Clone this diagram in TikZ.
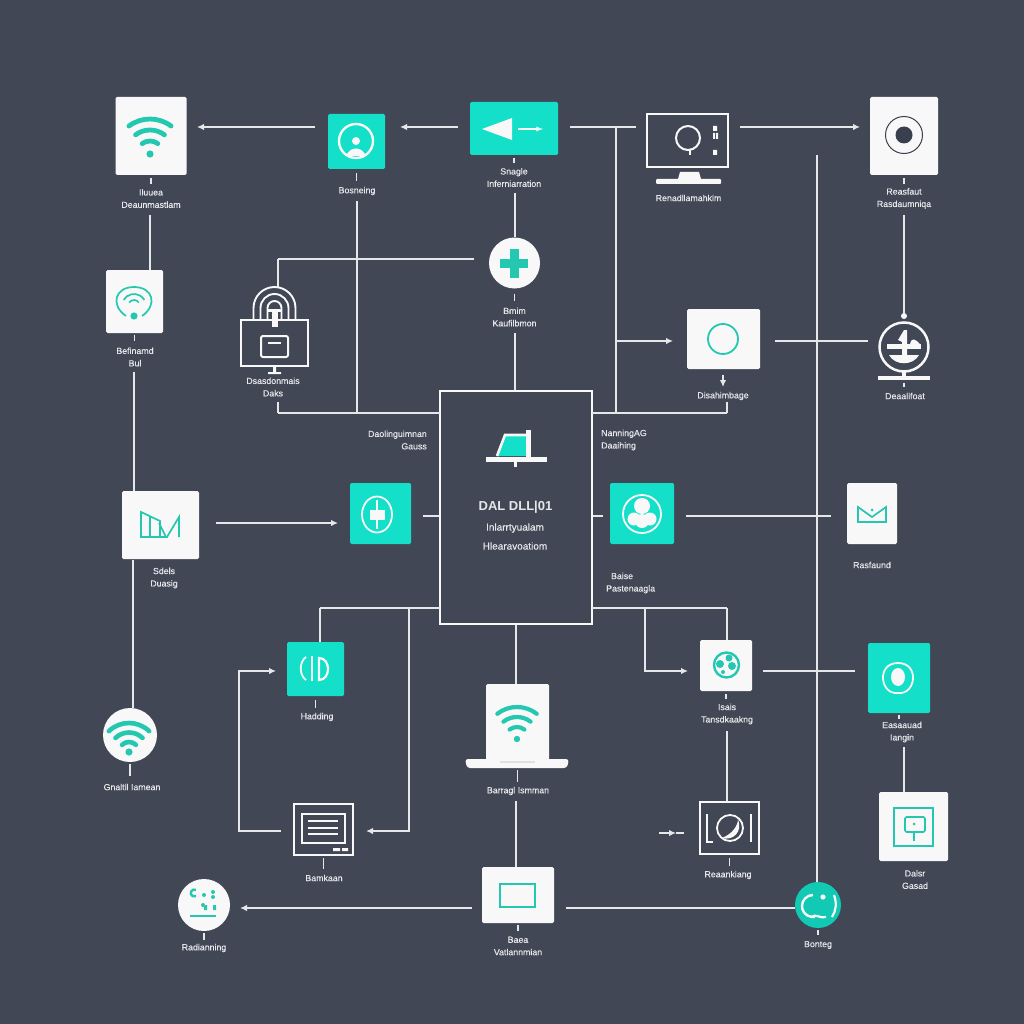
\documentclass[tikz,border=0pt]{standalone}
\usepackage{fontspec}
\setmainfont{Liberation Sans}
\usepackage{xcolor}
\usetikzlibrary{positioning,shapes,arrows,arrows.meta}

\definecolor{slatebg}{HTML}{424756}
\definecolor{aqua}{HTML}{14DFC8}
\definecolor{aquadark}{HTML}{24C8B0}
\definecolor{paper}{HTML}{F8F8F8}
\definecolor{wirecol}{HTML}{E6E7E9}
\definecolor{inkdark}{HTML}{3A3F4D}

\tikzset{
  wire/.style={draw=wirecol, line width=1.4pt},
  flow/.style={wire, -{Latex[length=7pt,width=6.5pt]}},
  whitebox/.style={draw=none, fill=paper, rounded corners=1.5pt, inner sep=0pt},
  tealbox/.style={draw=none, fill=aqua, rounded corners=1.5pt, inner sep=0pt},
  framebox/.style={draw=paper, line width=2pt, fill=slatebg, inner sep=0pt},
  whitedisc/.style={circle, draw=none, fill=paper, inner sep=0pt, minimum size=#1},
  tealdisc/.style={circle, draw=none, fill=aqua!90!black, inner sep=0pt, minimum size=#1},
  lbl/.style={text=wirecol, align=center, inner sep=0pt, font=\fontsize{8.8}{12.4}\selectfont\addfontfeature{FakeBold=0.3}},
  glyph/.style={draw=paper, line width=2pt},
  tealglyph/.style={draw=aquadark, line width=1.7pt}
}

% wifi sign: x, y, three radii, width, dot radius, half angle
\newcommand{\wifiglyph}[8]{
  \foreach \r in {#3,#4,#5}
    \draw[aquadark, line width=#6pt, line cap=round] (#1,#2) ++(-90-#8:\r) arc (-90-#8:-90+#8:\r);
  \fill[aquadark] (#1,#2) circle[radius=#7];
}

\begin{document}
\begin{tikzpicture}[x=1pt,y=-1pt]
  \fill[slatebg] (0,0) rectangle (1024,1024);

  % boxes
  \node[whitebox, minimum width=71, minimum height=78] (wifiA) at (151,136) {};
  \node[tealbox, minimum width=57, minimum height=55] (ringA) at (356.5,141.5) {};
  \node[tealbox, minimum width=88, minimum height=53] (pointer) at (514,128.5) {};
  \node[framebox, minimum width=81, minimum height=53] (monitor) at (687.5,140.5) {};
  \node[whitebox, minimum width=68, minimum height=78] (target) at (904,136) {};
  \node[whitebox, minimum width=57, minimum height=63] (wifiB) at (134.5,301.5) {};
  \node[framebox, minimum width=67, minimum height=46] (lockmon) at (274.5,342.5) {};
  \node[whitedisc=51] (plus) at (514.5,263) {};
  \node[whitebox, minimum width=73, minimum height=60] (ringbox) at (723.5,339) {};
  \node[circle, draw=paper, line width=2.5pt, inner sep=0pt, minimum size=49] (globe) at (904,347) {};
  \node[draw=paper, line width=1.7pt, fill=slatebg, inner sep=0pt, minimum width=152, minimum height=233] (central) at (516,507.5) {};
  \node[tealbox, minimum width=61, minimum height=61] (plusteal) at (380.5,513.5) {};
  \node[tealbox, minimum width=64, minimum height=61] (faceteal) at (642,513.5) {};
  \node[whitebox, minimum width=77, minimum height=68] (dmbox) at (160.5,525) {};
  \node[whitebox, minimum width=50, minimum height=61] (crown) at (872,513.5) {};
  \node[tealbox, minimum width=57, minimum height=54] (bars) at (315.5,669) {};
  \node[whitebox, minimum width=52, minimum height=51] (earth) at (726,665.5) {};
  \node[tealbox, minimum width=62, minimum height=70] (eye) at (899,678) {};
  \node[whitedisc=54] (wifiC) at (130,735) {};
  \node[whitebox, minimum width=63, minimum height=76] (laptop) at (517.5,722) {};
  \node[framebox, minimum width=59, minimum height=51] (listmon) at (323.5,829.5) {};
  \node[framebox, minimum width=59, minimum height=52] (gauge) at (729.5,828) {};
  \node[whitebox, minimum width=69, minimum height=69] (square) at (913.5,826.5) {};
  \node[whitedisc=52] (dots) at (204,905) {};
  \node[whitebox, minimum width=72, minimum height=56] (rectbox) at (518,895) {};
  \node[tealdisc=46] (smile) at (818,905) {};

  % texts
  \node[lbl] (t1) at (151,198.5) {Iluuea\\Deaunmastlam};
  \node[lbl] (t2) at (357,191) {Bosneing};
  \node[lbl] (t3) at (514,177.5) {Snagle\\Inferniarration};
  \node[lbl] (t4) at (688.5,198) {Renadllamahkim};
  \node[lbl] (t5) at (904,198.5) {Reasfaut\\Rasdaumniqa};
  \node[lbl] (t6) at (514.5,317) {Bmim\\Kaufilbmon};
  \node[lbl] (t7) at (135,357) {Befinamd\\Bul};
  \node[lbl] (t8) at (273,387) {Dsasdonmais\\Daks};
  \node[lbl] (t9) at (723,396) {Disahimbage};
  \node[lbl] (t10) at (905,396) {Deaalifoat};
  \node[lbl, anchor=east, align=right] (t11) at (427,440) {Daolinguimnan\\Gauss};
  \node[lbl, anchor=west, align=left] (t12) at (601,440) {NanningAG\\ Daaihing};
  \node[lbl, anchor=west, align=left] (t13) at (606,583) {\ \ Baise\\Pastenaagla};
  \node[lbl] (t14) at (164,578) {Sdels\\Duasig};
  \node[lbl] (t15) at (872,565) {Rasfaund};
  \node[lbl] (t16) at (317,717) {Hadding};
  \node[lbl] (t17) at (132,787) {Gnaltil Iamean};
  \node[lbl] (t18) at (518,791) {Barragl Ismman};
  \node[lbl] (t19) at (324,878) {Bamkaan};
  \node[lbl] (t20) at (204,948) {Radianning};
  \node[lbl] (t21) at (518,946) {Baea\\Vatlannmian};
  \node[lbl] (t22) at (727,714) {Isais\\Tansdkaakng};
  \node[lbl] (t23) at (902,732) {Easaauad\\Iangin};
  \node[lbl] (t24) at (728,875) {Reaankiang};
  \node[lbl] (t25) at (915,879.5) {Dalsr\\Gasad};
  \node[lbl] (t26) at (818,945) {Bonteg};
  \node[lbl, font=\fontsize{13}{15}\selectfont\bfseries] (t27) at (515.5,507) {DAL DLL\textbar 01};
  \node[lbl, font=\fontsize{10}{12}\selectfont\addfontfeature{FakeBold=0.3}] (t28) at (515,528) {Inlarrtyualam};
  \node[lbl, font=\fontsize{10}{12}\selectfont\addfontfeature{FakeBold=0.3}] (t29) at (515,546) {Hlearavoatiom};

  % free ends and junctions
  \foreach \name/\x/\y in {e1/315/127, e2/197/127, e3/458/127, e4/400/127, e5/570/127, e6/636/127,
      e7/740/127, e8/860/127, e9/616/127, e10/616/413, e11/616/341, e12/673/341, e13/775/341, e14/868/341,
      e15/723/375, e16/723/387, e17/727/402, e18/727/413, e19/592/413, e20/278/402, e21/278/413, e22/440/413,
      e23/357/201, e24/357/413, e25/474/259, e26/278/259, e27/216/523, e28/338/523, e29/423/516,
      e30/439/516, e31/593/516, e32/603/516, e33/686/516, e34/831/516, e35/320/608, e36/440/608,
      e37/592/608, e38/727/608, e39/409/608, e40/409/831, e41/366/831, e42/645/608, e43/645/671,
      e44/688/671, e45/281/831, e46/239/831, e47/239/671, e48/276/671, e49/763/671, e50/855/671,
      e51/472/908, e52/240/908, e53/566/908, e54/795/908, e55/659/833, e56/676/833, e57/684/833,
      e58/150/215, e59/515/193, e60/515/333, e61/134/372, e62/133/560, e63/904/215, e64/904/313,
      e65/817/155, e66/516/801, e67/727/731, e68/904/747, e69/278/288} 
    \coordinate (\name) at (\x,\y);

  % plain connectors
  \foreach \from/\to in {e5/e6, e9/e10, e13/e14, e19/e18, e21/e22, e23/e24, e25/e26, e26/e69, e29/e30, e31/e32,
      e33/e34, e35/e36, e37/e38, e36/e39, e63/e64, e49/e50, e53/e54, e17/e18}
    \draw[wire] (\from) -- (\to);

  % connectors that run down to a box
  \foreach \from/\to in {e58/wifiB.north, e59/plus.north, e60/central.north, e61/dmbox.north,
      e62/wifiC.north, e65/smile.north, e66/rectbox.north, e67/gauge.north, e68/square.north,
      e35/bars.north, e38/earth.north, central.south/laptop.north}
    \draw[wire] (\from) -- (\from |- \to);

  % arrows
  \foreach \from/\to in {e1/e2, e3/e4, e7/e8, e11/e12, e15/e16, e27/e28, e51/e52, e55/e56}
    \draw[flow] (\from) -- (\to);
  \draw[wire] (e56) -- (e57);
  \draw[wire] (e20) -- (e21);
  \draw[flow] (e39) -- (e40) -- (e41);
  \draw[flow] (e42) -- (e43) -- (e44);
  \draw[flow] (e45) -- (e46) -- (e47) -- (e48);

  % ticks under the boxes
  \foreach \n/\gap/\len in {wifiA/3/6, ringA/4/8, pointer/3/5, plus/5/7, wifiB/2/6, target/3/6, globe/10/4,
      bars/4/8, wifiC/2/12, laptop/10/12, listmon/2/11, rectbox/2/6, earth/3/5, eye/2/4, gauge/3/8,
      smile/2/5, dots/2/7}
    \draw[wire] (\n.south) ++(0,\gap) -- ++(0,\len);

  % wifi signs
  \wifiglyph{150}{154}{13}{24}{35}{4.8}{3.6}{37}
  \wifiglyph{129}{752}{10}{19.5}{29}{4.6}{3.6}{44}
  \wifiglyph{517}{739}{12}{22}{32}{4.2}{3.2}{38}
  \draw[tealglyph] (126,316) .. controls (110,305) and (115,287) .. (134,287) .. controls (153,287) and (158,305) .. (142,316);
  \draw[tealglyph] (134,306) ++(-150:12) arc (-150:-30:12);
  \draw[tealglyph] (134,306) ++(-145:6) arc (-145:-35:6);
  \fill[aquadark] (134,316) circle[radius=3.6];

  % ring and pointer
  \draw[paper, line width=2.4pt] (356,141) circle[radius=17];
  \fill[paper] (356,141) circle[radius=4];
  \fill[paper] (346,156) .. controls (350,146) and (362,146) .. (366,156) -- cycle;
  \fill[paper] (482,129) -- (512,118) -- (512,140) -- cycle;
  \coordinate (p1) at (518,129);
  \coordinate (p2) at (543,129);
  \draw[paper, line width=1.3pt, -latex] (p1) -- (p2);

  % monitor
  \draw[glyph] (688,138) circle[radius=12];
  \draw[paper, line width=1.4pt] (690,150) -- (690,155);
  \fill[paper] (713,126) rectangle (717,131) (713,133) rectangle (715,139) (716,133) rectangle (718,139) (713,150) rectangle (717,155);
  \fill[paper] (678,179) -- (680,172) -- (699,172) -- (701,179) -- cycle;
  \fill[paper, rounded corners=1pt] (656,179) rectangle (721,184);

  % target and plus
  \draw[inkdark, line width=1pt] (904,135) circle[radius=18.5];
  \fill[inkdark] (904,135) circle[radius=8.5];
  \fill[aquadark] (500,263-4.5) rectangle (528,263+4.5);
  \fill[aquadark] (514.5-4.5,249) rectangle (514.5+4.5,278);

  % lock monitor
  \foreach \r in {7,14,21}
    \draw[paper, line width=1.9pt] (274.5-\r,319) -- (274.5-\r,308) arc (180:360:\r) -- (274.5+\r,319);
  \fill[paper] (271.5,310) rectangle (277.5,327);
  \fill[paper] (268,309) rectangle (281,312);
  \draw[glyph, rounded corners=2pt] (261,336) rectangle (288,357);
  \draw[glyph] (268,343) -- (281,343);
  \fill[paper] (273,367) rectangle (276,372) (268,372) rectangle (281,374);

  % ring box and globe
  \draw[aquadark, line width=1.8pt] (723,339) circle[radius=15];
  \fill[paper] (904,316) circle[radius=3];
  \fill[paper] (887,344) rectangle (921,349);
  \fill[paper] (898,340) -- (904,330) -- (907,330) -- (907,358) -- (902,358) -- (902,342) -- cycle;
  \fill[paper] (889,355) .. controls (895,366) and (913,366) .. (919,355) -- cycle;
  \fill[paper] (910,344) .. controls (912,336) and (916,340) .. (920,344) -- cycle;
  \fill[paper] (878,376) rectangle (930,380);
  \fill[paper] (902,371) rectangle (906,376);

  % central icon
  \fill[aqua] (505,435) -- (526,435) -- (526,456) -- (497,456) -- cycle;
  \draw[paper, line width=2.6pt] (497,456) -- (505,435) -- (526,435);
  \fill[paper] (526,430) rectangle (531,457);
  \fill[paper] (486,457) rectangle (547,462);
  \fill[paper] (514,462) rectangle (517,467);

  % plus and face
  \draw[paper, line width=1.8pt] (377,514.5) ellipse[x radius=15, y radius=18];
  \draw[paper, line width=2.6pt] (377,500) -- (377,529);
  \fill[paper] (370,510) rectangle (385,520);
  \draw[paper, line width=1.8pt] (642,514) circle[radius=19];
  \fill[paper] (642,506) circle[radius=8] (634,519) circle[radius=6.5] (650,519) circle[radius=6.5] (642,521) circle[radius=7];

  % dm and crown
  \draw[tealglyph] (141,537) -- (141,512) -- (160,521) -- (160,537) -- cycle;
  \draw[tealglyph] (150,516) -- (150,537);
  \draw[tealglyph] (160,537) -- (167,537) -- (179,517) -- (179,537);
  \draw[tealglyph] (159,523) -- (166,537);
  \draw[tealglyph] (858,507) -- (858,522) -- (886,522) -- (886,507) -- (872,517) -- cycle;
  \fill[aquadark] (872,510) circle[radius=1.5];

  % bars, list and gauge
  \draw[paper, line width=1.8pt] (306,657) .. controls (299,662) and (299,675) .. (306,680);
  \draw[paper, line width=1.8pt] (312,656) -- (312,681);
  \draw[paper, line width=2.2pt] (319,658) .. controls (331,658) and (331,680) .. (319,680) -- cycle;
  \draw[paper, line width=1.6pt] (302,814) rectangle (345,843);
  \foreach \y in {821,828,834}
    \draw[paper, line width=1.6pt] (308,\y) -- (338,\y);
  \fill[paper] (333,848) rectangle (340,851) (342,848) rectangle (348,851);
  \draw[paper, line width=1.5pt] (713,842) -- (707,842) -- (707,814);
  \draw[paper, line width=1.5pt] (751,814) -- (751,842);
  \draw[paper, line width=1.8pt] (730,828) circle[radius=13];
  \fill[paper] (722,838) .. controls (732,834) and (738,826) .. (738,819) .. controls (743,832) and (733,841) .. cycle;

  % earth and eye
  \draw[aquadark, line width=2.4pt] (726.5,665) circle[radius=12.5];
  \fill[aquadark] (720,664) circle[radius=4] (729,658) circle[radius=3.5] (732,666) circle[radius=4] (723,672) circle[radius=2];
  \draw[paper, line width=1.8pt] (898,693) .. controls (880,695) and (876,663) .. (898,663) .. controls (920,663) and (916,695) .. (898,693);
  \fill[paper] (898,677) ellipse[x radius=7, y radius=9];

  % square, rectangle and laptop
  \draw[tealglyph] (894,808) rectangle (933,846);
  \draw[tealglyph, rounded corners=1.5pt] (905,817) rectangle (925,832);
  \draw[tealglyph] (914,832) -- (914,841);
  \fill[aquadark] (914,824) circle[radius=1.5];
  \draw[tealglyph] (500,884) rectangle (535,907);
  \fill[paper, rounded corners=3pt] (465,759) -- (569,759) -- (567,768) -- (467,768) -- cycle;
  \fill[black!12] (500,761) rectangle (535,763);

  % dots and smile
  \draw[aquadark, line width=2.4pt] (196,890) arc (-60:-300:3.5);
  \fill[aquadark] (204,895) circle[radius=2] (213,892) circle[radius=2] (213,897) circle[radius=2] (203,905) circle[radius=2] (213,905) rectangle (216,910) (204,905) rectangle (207,910);
  \draw[aquadark, line width=2pt] (190,916) -- (216,916);
  \draw[paper, line width=2.4pt] (813,895) arc (-90:-280:11);
  \draw[paper, line width=2.2pt] (811,917) .. controls (816,913) and (820,919) .. (826,917);
  \fill[paper] (823,897) circle[radius=2.6];
  \draw[paper, line width=2.2pt] (834,895) .. controls (837,903) and (836,911) .. (832,917);
\end{tikzpicture}
\end{document}
